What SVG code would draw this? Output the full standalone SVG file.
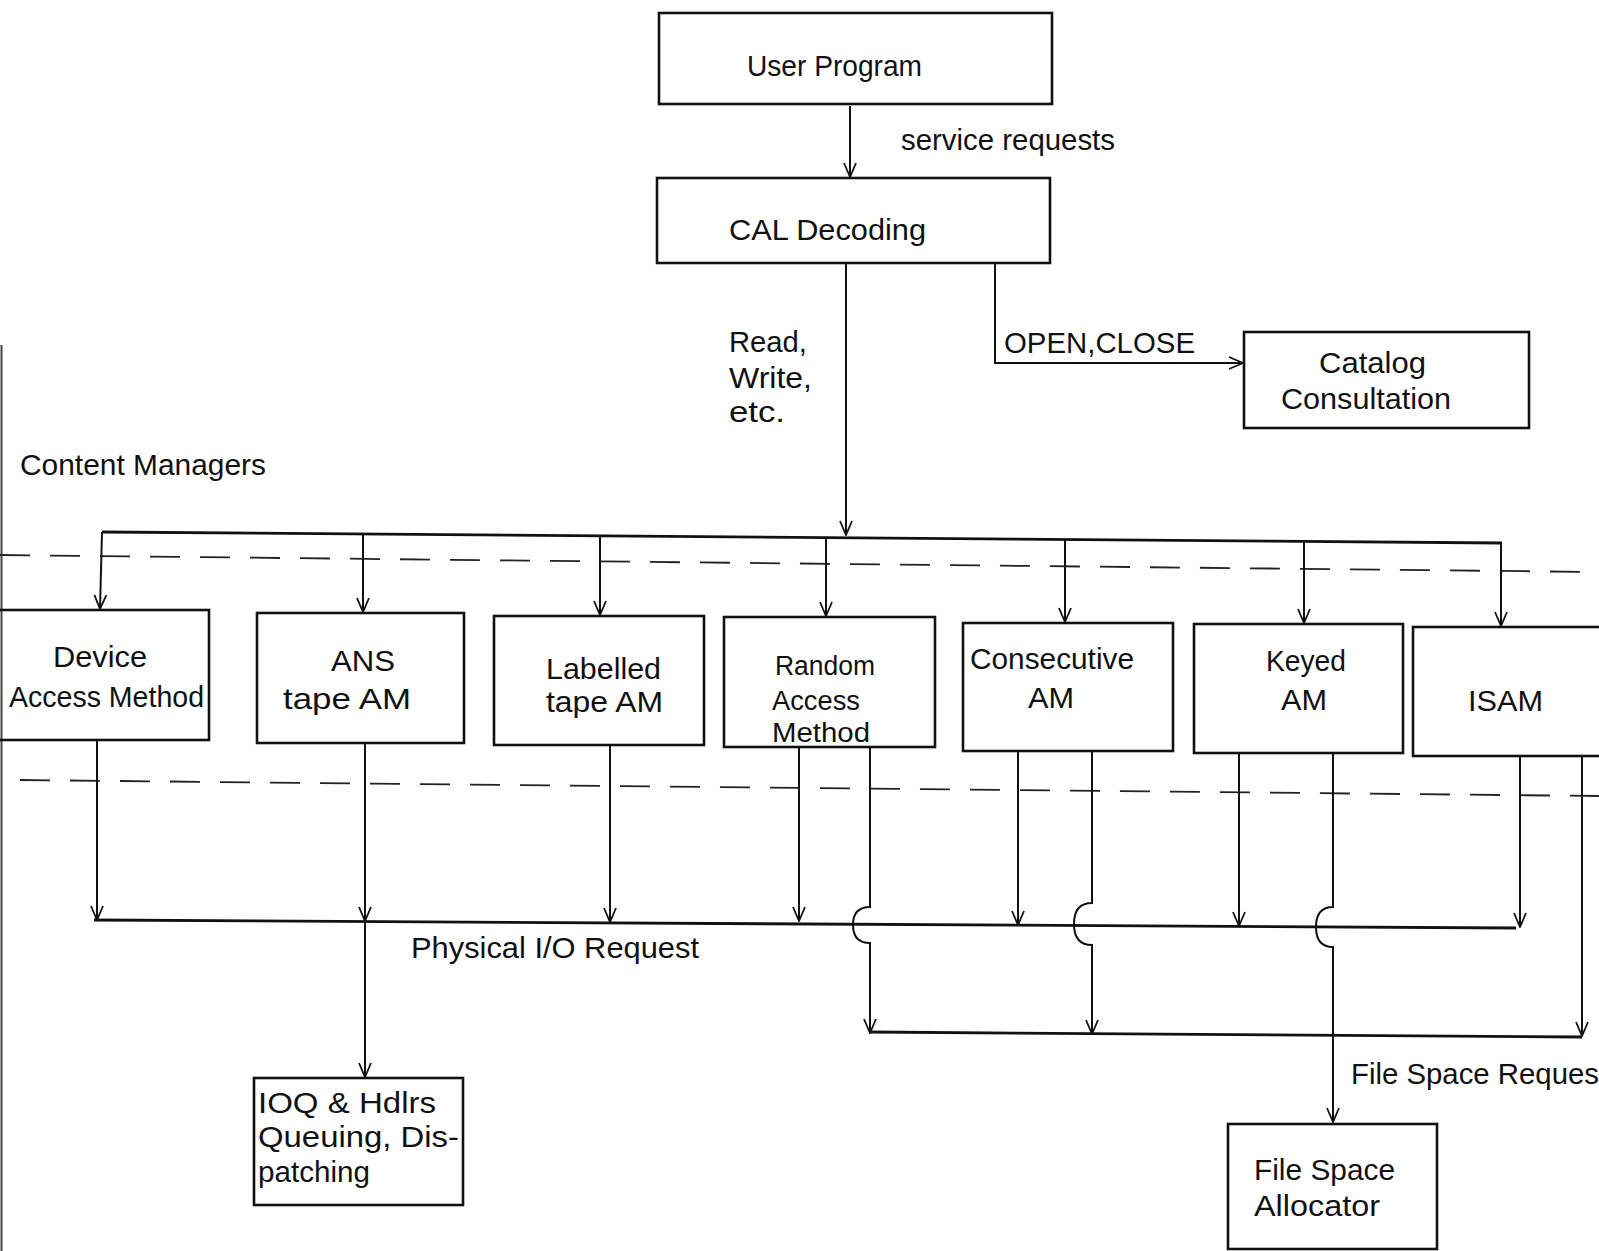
<svg xmlns="http://www.w3.org/2000/svg" width="1599" height="1251" viewBox="0 0 1599 1251">
<defs>
<marker id="arr" markerUnits="userSpaceOnUse" viewBox="0 0 16 16" refX="15" refY="8" markerWidth="16" markerHeight="16" orient="auto">
<path d="M1,2 L15,8 L1,14" fill="none" stroke="#111" stroke-width="1.8"/>
</marker>
</defs>
<style>
.box{fill:none;stroke:#111;stroke-width:2.6}
.t{font-family:"Liberation Sans",Arial,sans-serif;font-size:29px;fill:#111}
.s{font-size:27px}
.c{fill:none;stroke:#111;stroke-width:2}
.a{marker-end:url(#arr)}
.bus{fill:none;stroke:#111;stroke-width:2.8}
.dash{fill:none;stroke:#222;stroke-width:1.8;stroke-dasharray:30 20}
.edge{fill:none;stroke:#444;stroke-width:2}
</style>
<rect width="1599" height="1251" fill="#fff"/>
<line class="edge" x1="1.5" y1="345" x2="1.5" y2="1251"/>

<g id="separators">
<path class="dash" d="M0,555 L1599,572"/>
<path class="dash" d="M20,780 L1599,796"/>
</g>

<g id="connectors">
<path class="c a" d="M850,106 V177"/>
<path class="c a" d="M846,263 V535"/>
<path class="c a" d="M995,263 V363 H1243"/>
<path class="bus" d="M102,532 L1502,543"/>
<path class="c a" d="M102,532 L100,609"/>
<path class="c a" d="M363,534 V612"/>
<path class="c a" d="M600,536 V615"/>
<path class="c a" d="M826,538 V616"/>
<path class="c a" d="M1065,540 V622"/>
<path class="c a" d="M1304,541 V623"/>
<path class="c a" d="M1501,543 V626"/>
<path class="bus" d="M94,920 L1516,928"/>
<path class="c a" d="M97,740 V920"/>
<path class="c a" d="M365,743 V921"/>
<path class="c a" d="M365,921 V1077"/>
<path class="c a" d="M610,745 V922"/>
<path class="c a" d="M799,747 V921"/>
<path class="c a" d="M870,747 V907 Q853,907 853,925 Q853,943 870,943 V1033"/>
<path class="c a" d="M1018,751 V925"/>
<path class="c a" d="M1092,751 V903 Q1074,903 1074,924 Q1074,945 1092,945 V1034"/>
<path class="c a" d="M1239,753 V926"/>
<path class="c a" d="M1333,753 V907 Q1316,907 1316,927 Q1316,947 1333,947 V1122"/>
<path class="c a" d="M1520,756 V927"/>
<path class="c a" d="M1582,756 V1036"/>
<path class="bus" d="M869,1032 L1582,1037"/>
</g>

<g id="labels">
<text class="t" x="901" y="150" textLength="214" lengthAdjust="spacingAndGlyphs">service requests</text>
<text class="t" x="729" y="352" textLength="78" lengthAdjust="spacingAndGlyphs">Read,</text>
<text class="t" x="729" y="388" textLength="83" lengthAdjust="spacingAndGlyphs">Write,</text>
<text class="t" x="729" y="422" textLength="56" lengthAdjust="spacingAndGlyphs">etc.</text>
<text class="t" x="1004" y="353" textLength="191" lengthAdjust="spacingAndGlyphs">OPEN,CLOSE</text>
<text class="t" x="20" y="475" textLength="246" lengthAdjust="spacingAndGlyphs">Content Managers</text>
<text class="t" x="411" y="958" textLength="288" lengthAdjust="spacingAndGlyphs">Physical I/O Request</text>
<text class="t" x="1351" y="1084" textLength="248" lengthAdjust="spacingAndGlyphs">File Space Reques</text>
</g>

<g id="user-program">
<rect class="box" x="659" y="13" width="393" height="91"/>
<text class="t" x="747" y="76" textLength="175" lengthAdjust="spacingAndGlyphs">User Program</text>
</g>
<g id="cal-decoding">
<rect class="box" x="657" y="178" width="393" height="85"/>
<text class="t" x="729" y="240" textLength="197" lengthAdjust="spacingAndGlyphs">CAL Decoding</text>
</g>
<g id="catalog-consultation">
<rect class="box" x="1244" y="332" width="285" height="96"/>
<text class="t" x="1319" y="373" textLength="107" lengthAdjust="spacingAndGlyphs">Catalog</text>
<text class="t" x="1281" y="409" textLength="170" lengthAdjust="spacingAndGlyphs">Consultation</text>
</g>
<g id="device-am">
<rect class="box" x="-5" y="610" width="214" height="130"/>
<text class="t" x="53" y="667" textLength="94" lengthAdjust="spacingAndGlyphs">Device</text>
<text class="t" x="9" y="707" textLength="195" lengthAdjust="spacingAndGlyphs">Access Method</text>
</g>
<g id="ans-tape-am">
<rect class="box" x="257" y="613" width="207" height="130"/>
<text class="t" x="331" y="671" textLength="64" lengthAdjust="spacingAndGlyphs">ANS</text>
<text class="t" x="283" y="709" textLength="128" lengthAdjust="spacingAndGlyphs">tape   AM</text>
</g>
<g id="labelled-tape-am">
<rect class="box" x="494" y="616" width="210" height="129"/>
<text class="t" x="546" y="679" textLength="115" lengthAdjust="spacingAndGlyphs">Labelled</text>
<text class="t" x="546" y="712" textLength="117" lengthAdjust="spacingAndGlyphs">tape AM</text>
</g>
<g id="random-am">
<rect class="box" x="724" y="617" width="211" height="130"/>
<text class="t s" x="775" y="675" textLength="100" lengthAdjust="spacingAndGlyphs">Random</text>
<text class="t s" x="772" y="710" textLength="88" lengthAdjust="spacingAndGlyphs">Access</text>
<text class="t s" x="772" y="742" textLength="98" lengthAdjust="spacingAndGlyphs">Method</text>
</g>
<g id="consecutive-am">
<rect class="box" x="963" y="623" width="210" height="128"/>
<text class="t" x="970" y="669" textLength="164" lengthAdjust="spacingAndGlyphs">Consecutive</text>
<text class="t" x="1028" y="708" textLength="46" lengthAdjust="spacingAndGlyphs">AM</text>
</g>
<g id="keyed-am">
<rect class="box" x="1194" y="624" width="209" height="129"/>
<text class="t" x="1266" y="671" textLength="80" lengthAdjust="spacingAndGlyphs">Keyed</text>
<text class="t" x="1281" y="710" textLength="46" lengthAdjust="spacingAndGlyphs">AM</text>
</g>
<g id="isam">
<rect class="box" x="1413" y="627" width="210" height="129"/>
<text class="t" x="1468" y="711" textLength="75" lengthAdjust="spacingAndGlyphs">ISAM</text>
</g>
<g id="ioq-handlers">
<rect class="box" x="254" y="1078" width="209" height="127"/>
<text class="t" x="258" y="1113" textLength="178" lengthAdjust="spacingAndGlyphs">IOQ &amp; Hdlrs</text>
<text class="t" x="258" y="1147" textLength="201" lengthAdjust="spacingAndGlyphs">Queuing, Dis-</text>
<text class="t" x="258" y="1182" textLength="112" lengthAdjust="spacingAndGlyphs">patching</text>
</g>
<g id="file-space-allocator">
<rect class="box" x="1228" y="1124" width="209" height="125"/>
<text class="t" x="1254" y="1180" textLength="141" lengthAdjust="spacingAndGlyphs">File Space</text>
<text class="t" x="1254" y="1216" textLength="126" lengthAdjust="spacingAndGlyphs">Allocator</text>
</g>
</svg>
